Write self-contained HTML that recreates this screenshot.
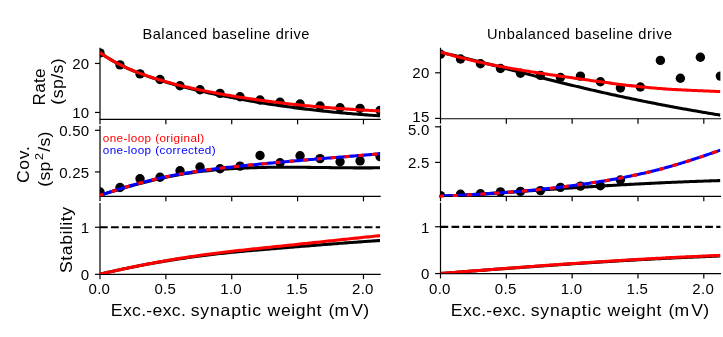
<!DOCTYPE html>
<html><head><meta charset="utf-8"><title>Figure</title>
<style>
html,body{margin:0;padding:0;background:#fff;}
body{width:723px;height:337px;overflow:hidden;font-family:"Liberation Sans",sans-serif;}
svg{display:block;will-change:transform;}
svg text{font-family:"Liberation Sans",sans-serif;}
</style></head><body>
<svg width="723" height="337" viewBox="0 0 723 337">
<rect width="723" height="337" fill="#fff"/>
<defs>
<clipPath id="c00"><rect x="100.00" y="48.30" width="280.10" height="70.90"/></clipPath>
<clipPath id="c01"><rect x="100.00" y="126.20" width="280.10" height="70.05"/></clipPath>
<clipPath id="c02"><rect x="100.00" y="203.50" width="280.10" height="70.60"/></clipPath>
<clipPath id="c10"><rect x="440.50" y="48.20" width="279.90" height="70.35"/></clipPath>
<clipPath id="c11"><rect x="440.50" y="125.70" width="279.90" height="70.50"/></clipPath>
<clipPath id="c12"><rect x="440.50" y="203.30" width="279.90" height="70.05"/></clipPath>
<clipPath id="c11r"><rect x="438.80" y="125.20" width="281.60" height="73.70"/></clipPath>
</defs>
<g stroke="#000000" stroke-width="1.2" fill="none">
<path d="M100.0,47.8 V120.00 M99.40,119.4 H380.70"/>
<path d="M100.00,119.4 v4.9"/>
<path d="M165.87,119.4 v4.9"/>
<path d="M231.73,119.4 v4.9"/>
<path d="M297.59,119.4 v4.9"/>
<path d="M363.46,119.4 v4.9"/>
<path d="M100.0,63.45 h-5.0"/>
<path d="M100.0,112.45 h-5.0"/>
<path d="M100.0,125.7 V197.05 M99.40,196.45 H380.70"/>
<path d="M100.00,196.45 v4.9"/>
<path d="M165.87,196.45 v4.9"/>
<path d="M231.73,196.45 v4.9"/>
<path d="M297.59,196.45 v4.9"/>
<path d="M363.46,196.45 v4.9"/>
<path d="M100.0,130.3 h-5.0"/>
<path d="M100.0,171.95 h-5.0"/>
<path d="M100.0,203.0 V274.90 M99.40,274.3 H380.70"/>
<path d="M100.00,274.3 v4.9"/>
<path d="M165.87,274.3 v4.9"/>
<path d="M231.73,274.3 v4.9"/>
<path d="M297.59,274.3 v4.9"/>
<path d="M363.46,274.3 v4.9"/>
<path d="M100.0,227.25 h-5.0"/>
<path d="M100.0,274.3 h-5.0"/>
<path d="M440.5,47.7 V119.35 M439.90,118.75 H721.00"/>
<path d="M440.50,118.75 v4.9"/>
<path d="M506.32,118.75 v4.9"/>
<path d="M572.15,118.75 v4.9"/>
<path d="M637.98,118.75 v4.9"/>
<path d="M703.80,118.75 v4.9"/>
<path d="M440.5,72.8 h-5.4"/>
<path d="M440.5,118.4 h-5.4"/>
<path d="M440.5,125.2 V197.00 M439.90,196.4 H721.00"/>
<path d="M440.50,196.4 v4.9"/>
<path d="M506.32,196.4 v4.9"/>
<path d="M572.15,196.4 v4.9"/>
<path d="M637.98,196.4 v4.9"/>
<path d="M703.80,196.4 v4.9"/>
<path d="M440.5,126.8 h-5.4"/>
<path d="M440.5,162.4 h-5.4"/>
<path d="M440.5,202.8 V274.15 M439.90,273.55 H721.00"/>
<path d="M440.50,273.55 v4.9"/>
<path d="M506.32,273.55 v4.9"/>
<path d="M572.15,273.55 v4.9"/>
<path d="M637.98,273.55 v4.9"/>
<path d="M703.80,273.55 v4.9"/>
<path d="M440.5,226.75 h-5.4"/>
<path d="M440.5,273.55 h-5.4"/>
</g>
<g fill="#000000" clip-path="url(#c00)">
<circle cx="100.00" cy="52.9" r="4.7"/>
<circle cx="120.00" cy="64.9" r="4.7"/>
<circle cx="140.01" cy="73.9" r="4.7"/>
<circle cx="160.01" cy="79.5" r="4.7"/>
<circle cx="180.02" cy="85.8" r="4.7"/>
<circle cx="200.02" cy="89.8" r="4.7"/>
<circle cx="220.03" cy="93.4" r="4.7"/>
<circle cx="240.03" cy="96.7" r="4.7"/>
<circle cx="260.04" cy="100.0" r="4.7"/>
<circle cx="280.04" cy="102.3" r="4.7"/>
<circle cx="300.05" cy="104.0" r="4.7"/>
<circle cx="320.05" cy="106.0" r="4.7"/>
<circle cx="340.06" cy="107.7" r="4.7"/>
<circle cx="360.06" cy="108.4" r="4.7"/>
<circle cx="380.07" cy="110.4" r="4.7"/>
</g>
<path d="M100.00,52.62 L102.00,54.02 L104.00,55.37 L106.00,56.68 L108.00,57.94 L110.00,59.16 L112.00,60.35 L114.00,61.49 L116.01,62.60 L118.01,63.67 L120.01,64.70 L122.01,65.71 L124.01,66.68 L126.01,67.62 L128.01,68.53 L130.01,69.42 L132.01,70.27 L134.01,71.11 L136.01,71.92 L138.01,72.70 L140.01,73.47 L142.01,74.21 L144.02,74.94 L146.02,75.65 L148.02,76.35 L150.02,77.03 L152.02,77.70 L154.02,78.36 L156.02,79.01 L158.02,79.65 L160.02,80.28 L162.02,80.89 L164.02,81.50 L166.02,82.10 L168.02,82.70 L170.03,83.28 L172.03,83.85 L174.03,84.41 L176.03,84.97 L178.03,85.51 L180.03,86.05 L182.03,86.58 L184.03,87.10 L186.03,87.61 L188.03,88.11 L190.03,88.61 L192.03,89.09 L194.03,89.57 L196.03,90.05 L198.04,90.51 L200.04,90.97 L202.04,91.42 L204.04,91.86 L206.04,92.30 L208.04,92.73 L210.04,93.16 L212.04,93.59 L214.04,94.01 L216.04,94.42 L218.04,94.84 L220.04,95.24 L222.04,95.65 L224.04,96.05 L226.05,96.45 L228.05,96.84 L230.05,97.23 L232.05,97.61 L234.05,97.99 L236.05,98.37 L238.05,98.74 L240.05,99.11 L242.05,99.47 L244.05,99.83 L246.05,100.19 L248.05,100.54 L250.05,100.89 L252.05,101.24 L254.06,101.59 L256.06,101.93 L258.06,102.26 L260.06,102.60 L262.06,102.92 L264.06,103.25 L266.06,103.57 L268.06,103.89 L270.06,104.20 L272.06,104.51 L274.06,104.81 L276.06,105.11 L278.06,105.41 L280.06,105.70 L282.07,105.98 L284.07,106.26 L286.07,106.54 L288.07,106.82 L290.07,107.09 L292.07,107.35 L294.07,107.62 L296.07,107.87 L298.07,108.13 L300.07,108.38 L302.07,108.63 L304.07,108.87 L306.07,109.12 L308.07,109.35 L310.08,109.59 L312.08,109.82 L314.08,110.05 L316.08,110.27 L318.08,110.49 L320.08,110.71 L322.08,110.92 L324.08,111.14 L326.08,111.34 L328.08,111.55 L330.08,111.75 L332.08,111.95 L334.08,112.15 L336.08,112.34 L338.09,112.53 L340.09,112.72 L342.09,112.90 L344.09,113.08 L346.09,113.26 L348.09,113.43 L350.09,113.60 L352.09,113.77 L354.09,113.94 L356.09,114.10 L358.09,114.26 L360.09,114.42 L362.09,114.58 L364.09,114.73 L366.10,114.88 L368.10,115.03 L370.10,115.17 L372.10,115.31 L374.10,115.45 L376.10,115.59 L378.10,115.72 L380.10,115.85" fill="none" stroke="#000000" stroke-width="3.05" stroke-linejoin="round" clip-path="url(#c00)"/>
<path d="M100.00,52.62 L102.00,54.02 L104.00,55.37 L106.00,56.67 L108.00,57.93 L110.00,59.15 L112.00,60.33 L114.00,61.47 L116.01,62.57 L118.01,63.64 L120.01,64.67 L122.01,65.66 L124.01,66.62 L126.01,67.56 L128.01,68.46 L130.01,69.33 L132.01,70.18 L134.01,71.00 L136.01,71.80 L138.01,72.58 L140.01,73.33 L142.01,74.06 L144.02,74.78 L146.02,75.48 L148.02,76.16 L150.02,76.83 L152.02,77.48 L154.02,78.13 L156.02,78.76 L158.02,79.38 L160.02,79.98 L162.02,80.58 L164.02,81.16 L166.02,81.73 L168.02,82.29 L170.03,82.84 L172.03,83.38 L174.03,83.91 L176.03,84.43 L178.03,84.94 L180.03,85.44 L182.03,85.93 L184.03,86.41 L186.03,86.88 L188.03,87.34 L190.03,87.80 L192.03,88.25 L194.03,88.69 L196.03,89.12 L198.04,89.55 L200.04,89.96 L202.04,90.38 L204.04,90.78 L206.04,91.18 L208.04,91.57 L210.04,91.96 L212.04,92.34 L214.04,92.72 L216.04,93.09 L218.04,93.46 L220.04,93.82 L222.04,94.18 L224.04,94.53 L226.05,94.88 L228.05,95.22 L230.05,95.56 L232.05,95.90 L234.05,96.23 L236.05,96.56 L238.05,96.89 L240.05,97.21 L242.05,97.52 L244.05,97.83 L246.05,98.14 L248.05,98.45 L250.05,98.75 L252.05,99.04 L254.06,99.34 L256.06,99.62 L258.06,99.91 L260.06,100.19 L262.06,100.47 L264.06,100.74 L266.06,101.01 L268.06,101.28 L270.06,101.54 L272.06,101.80 L274.06,102.05 L276.06,102.30 L278.06,102.55 L280.06,102.79 L282.07,103.03 L284.07,103.27 L286.07,103.50 L288.07,103.73 L290.07,103.96 L292.07,104.18 L294.07,104.40 L296.07,104.62 L298.07,104.83 L300.07,105.04 L302.07,105.25 L304.07,105.45 L306.07,105.65 L308.07,105.85 L310.08,106.04 L312.08,106.23 L314.08,106.42 L316.08,106.60 L318.08,106.78 L320.08,106.96 L322.08,107.13 L324.08,107.30 L326.08,107.47 L328.08,107.64 L330.08,107.80 L332.08,107.96 L334.08,108.11 L336.08,108.27 L338.09,108.42 L340.09,108.57 L342.09,108.71 L344.09,108.85 L346.09,108.99 L348.09,109.13 L350.09,109.26 L352.09,109.39 L354.09,109.52 L356.09,109.65 L358.09,109.77 L360.09,109.89 L362.09,110.01 L364.09,110.12 L366.10,110.23 L368.10,110.34 L370.10,110.45 L372.10,110.56 L374.10,110.66 L376.10,110.76 L378.10,110.86 L380.10,110.95" fill="none" stroke="#ff0000" stroke-width="3.05" stroke-linejoin="round" clip-path="url(#c00)"/>
<g fill="#000000" clip-path="url(#c01)">
<circle cx="100.00" cy="192.0" r="4.7"/>
<circle cx="120.00" cy="187.5" r="4.7"/>
<circle cx="140.01" cy="178.8" r="4.7"/>
<circle cx="160.01" cy="177.2" r="4.7"/>
<circle cx="180.02" cy="170.7" r="4.7"/>
<circle cx="200.02" cy="167.0" r="4.7"/>
<circle cx="220.03" cy="168.7" r="4.7"/>
<circle cx="240.03" cy="166.1" r="4.7"/>
<circle cx="260.04" cy="155.5" r="4.7"/>
<circle cx="280.04" cy="162.7" r="4.7"/>
<circle cx="300.05" cy="155.8" r="4.7"/>
<circle cx="320.05" cy="158.6" r="4.7"/>
<circle cx="340.06" cy="161.7" r="4.7"/>
<circle cx="360.06" cy="160.9" r="4.7"/>
<circle cx="380.07" cy="156.6" r="4.7"/>
</g>
<path d="M100.00,195.23 L102.00,194.61 L104.00,193.98 L106.00,193.36 L108.00,192.75 L110.00,192.14 L112.00,191.53 L114.00,190.92 L116.01,190.32 L118.01,189.73 L120.01,189.13 L122.01,188.55 L124.01,187.96 L126.01,187.39 L128.01,186.82 L130.01,186.25 L132.01,185.69 L134.01,185.14 L136.01,184.59 L138.01,184.05 L140.01,183.51 L142.01,182.99 L144.02,182.47 L146.02,181.95 L148.02,181.45 L150.02,180.95 L152.02,180.46 L154.02,179.98 L156.02,179.50 L158.02,179.04 L160.02,178.58 L162.02,178.13 L164.02,177.70 L166.02,177.27 L168.02,176.85 L170.03,176.44 L172.03,176.04 L174.03,175.65 L176.03,175.27 L178.03,174.91 L180.03,174.55 L182.03,174.20 L184.03,173.87 L186.03,173.54 L188.03,173.23 L190.03,172.93 L192.03,172.64 L194.03,172.35 L196.03,172.08 L198.04,171.82 L200.04,171.56 L202.04,171.32 L204.04,171.08 L206.04,170.86 L208.04,170.64 L210.04,170.43 L212.04,170.23 L214.04,170.04 L216.04,169.85 L218.04,169.68 L220.04,169.51 L222.04,169.35 L224.04,169.20 L226.05,169.05 L228.05,168.91 L230.05,168.78 L232.05,168.65 L234.05,168.53 L236.05,168.42 L238.05,168.31 L240.05,168.21 L242.05,168.12 L244.05,168.03 L246.05,167.95 L248.05,167.87 L250.05,167.80 L252.05,167.73 L254.06,167.67 L256.06,167.61 L258.06,167.55 L260.06,167.51 L262.06,167.46 L264.06,167.42 L266.06,167.39 L268.06,167.35 L270.06,167.33 L272.06,167.30 L274.06,167.28 L276.06,167.27 L278.06,167.25 L280.06,167.24 L282.07,167.23 L284.07,167.23 L286.07,167.23 L288.07,167.23 L290.07,167.23 L292.07,167.24 L294.07,167.25 L296.07,167.26 L298.07,167.27 L300.07,167.28 L302.07,167.30 L304.07,167.32 L306.07,167.34 L308.07,167.36 L310.08,167.38 L312.08,167.40 L314.08,167.42 L316.08,167.45 L318.08,167.47 L320.08,167.50 L322.08,167.52 L324.08,167.55 L326.08,167.57 L328.08,167.60 L330.08,167.62 L332.08,167.65 L334.08,167.67 L336.08,167.70 L338.09,167.72 L340.09,167.74 L342.09,167.76 L344.09,167.78 L346.09,167.80 L348.09,167.82 L350.09,167.83 L352.09,167.85 L354.09,167.86 L356.09,167.87 L358.09,167.88 L360.09,167.88 L362.09,167.88 L364.09,167.88 L366.10,167.88 L368.10,167.88 L370.10,167.87 L372.10,167.86 L374.10,167.84 L376.10,167.83 L378.10,167.80 L380.10,167.78" fill="none" stroke="#000000" stroke-width="3.05" stroke-linejoin="round" clip-path="url(#c01)"/>
<path d="M100.00,195.40 L102.00,194.70 L104.00,194.01 L106.00,193.33 L108.00,192.66 L110.00,191.99 L112.00,191.34 L114.00,190.69 L116.01,190.05 L118.01,189.42 L120.01,188.80 L122.01,188.18 L124.01,187.57 L126.01,186.98 L128.01,186.39 L130.01,185.80 L132.01,185.23 L134.01,184.67 L136.01,184.11 L138.01,183.56 L140.01,183.03 L142.01,182.50 L144.02,181.97 L146.02,181.46 L148.02,180.96 L150.02,180.46 L152.02,179.98 L154.02,179.50 L156.02,179.03 L158.02,178.57 L160.02,178.12 L162.02,177.68 L164.02,177.25 L166.02,176.82 L168.02,176.41 L170.03,176.00 L172.03,175.61 L174.03,175.22 L176.03,174.84 L178.03,174.47 L180.03,174.11 L182.03,173.76 L184.03,173.41 L186.03,173.07 L188.03,172.74 L190.03,172.42 L192.03,172.10 L194.03,171.79 L196.03,171.49 L198.04,171.19 L200.04,170.90 L202.04,170.62 L204.04,170.34 L206.04,170.07 L208.04,169.80 L210.04,169.54 L212.04,169.28 L214.04,169.03 L216.04,168.78 L218.04,168.54 L220.04,168.30 L222.04,168.06 L224.04,167.83 L226.05,167.60 L228.05,167.38 L230.05,167.15 L232.05,166.93 L234.05,166.72 L236.05,166.50 L238.05,166.29 L240.05,166.08 L242.05,165.87 L244.05,165.67 L246.05,165.46 L248.05,165.26 L250.05,165.06 L252.05,164.86 L254.06,164.66 L256.06,164.46 L258.06,164.26 L260.06,164.07 L262.06,163.88 L264.06,163.69 L266.06,163.50 L268.06,163.31 L270.06,163.12 L272.06,162.93 L274.06,162.75 L276.06,162.57 L278.06,162.38 L280.06,162.20 L282.07,162.02 L284.07,161.84 L286.07,161.66 L288.07,161.49 L290.07,161.31 L292.07,161.13 L294.07,160.96 L296.07,160.79 L298.07,160.61 L300.07,160.44 L302.07,160.27 L304.07,160.10 L306.07,159.93 L308.07,159.76 L310.08,159.59 L312.08,159.42 L314.08,159.25 L316.08,159.09 L318.08,158.92 L320.08,158.75 L322.08,158.59 L324.08,158.42 L326.08,158.26 L328.08,158.09 L330.08,157.93 L332.08,157.76 L334.08,157.60 L336.08,157.44 L338.09,157.27 L340.09,157.11 L342.09,156.94 L344.09,156.78 L346.09,156.62 L348.09,156.45 L350.09,156.29 L352.09,156.12 L354.09,155.96 L356.09,155.79 L358.09,155.63 L360.09,155.46 L362.09,155.30 L364.09,155.13 L366.10,154.97 L368.10,154.80 L370.10,154.63 L372.10,154.47 L374.10,154.30 L376.10,154.13 L378.10,153.96 L380.10,153.79" fill="none" stroke="#0000ff" stroke-width="3.05" stroke-linejoin="round" clip-path="url(#c01)"/>
<path d="M100.00,195.40 L102.00,194.70 L104.00,194.01 L106.00,193.33 L108.00,192.66 L110.00,191.99 L112.00,191.34 L114.00,190.69 L116.01,190.05 L118.01,189.42 L120.01,188.80 L122.01,188.18 L124.01,187.57 L126.01,186.98 L128.01,186.39 L130.01,185.80 L132.01,185.23 L134.01,184.67 L136.01,184.11 L138.01,183.56 L140.01,183.03 L142.01,182.50 L144.02,181.97 L146.02,181.46 L148.02,180.96 L150.02,180.46 L152.02,179.98 L154.02,179.50 L156.02,179.03 L158.02,178.57 L160.02,178.12 L162.02,177.68 L164.02,177.25 L166.02,176.82 L168.02,176.41 L170.03,176.00 L172.03,175.61 L174.03,175.22 L176.03,174.84 L178.03,174.47 L180.03,174.11 L182.03,173.76 L184.03,173.41 L186.03,173.07 L188.03,172.74 L190.03,172.42 L192.03,172.10 L194.03,171.79 L196.03,171.49 L198.04,171.19 L200.04,170.90 L202.04,170.62 L204.04,170.34 L206.04,170.07 L208.04,169.80 L210.04,169.54 L212.04,169.28 L214.04,169.03 L216.04,168.78 L218.04,168.54 L220.04,168.30 L222.04,168.06 L224.04,167.83 L226.05,167.60 L228.05,167.38 L230.05,167.15 L232.05,166.93 L234.05,166.72 L236.05,166.50 L238.05,166.29 L240.05,166.08 L242.05,165.87 L244.05,165.67 L246.05,165.46 L248.05,165.26 L250.05,165.06 L252.05,164.86 L254.06,164.66 L256.06,164.46 L258.06,164.26 L260.06,164.07 L262.06,163.88 L264.06,163.69 L266.06,163.50 L268.06,163.31 L270.06,163.12 L272.06,162.93 L274.06,162.75 L276.06,162.57 L278.06,162.38 L280.06,162.20 L282.07,162.02 L284.07,161.84 L286.07,161.66 L288.07,161.49 L290.07,161.31 L292.07,161.13 L294.07,160.96 L296.07,160.79 L298.07,160.61 L300.07,160.44 L302.07,160.27 L304.07,160.10 L306.07,159.93 L308.07,159.76 L310.08,159.59 L312.08,159.42 L314.08,159.25 L316.08,159.09 L318.08,158.92 L320.08,158.75 L322.08,158.59 L324.08,158.42 L326.08,158.26 L328.08,158.09 L330.08,157.93 L332.08,157.76 L334.08,157.60 L336.08,157.44 L338.09,157.27 L340.09,157.11 L342.09,156.94 L344.09,156.78 L346.09,156.62 L348.09,156.45 L350.09,156.29 L352.09,156.12 L354.09,155.96 L356.09,155.79 L358.09,155.63 L360.09,155.46 L362.09,155.30 L364.09,155.13 L366.10,154.97 L368.10,154.80 L370.10,154.63 L372.10,154.47 L374.10,154.30 L376.10,154.13 L378.10,153.96 L380.10,153.79" fill="none" stroke="#ff0000" stroke-width="3.05" stroke-linejoin="round" stroke-dasharray="5.2 8.69" stroke-dashoffset="1.7" clip-path="url(#c01)"/>
<path d="M100.00,274.18 L102.00,273.71 L104.00,273.25 L106.00,272.79 L108.00,272.33 L110.00,271.88 L112.00,271.43 L114.00,270.99 L116.01,270.55 L118.01,270.12 L120.01,269.69 L122.01,269.26 L124.01,268.84 L126.01,268.42 L128.01,268.01 L130.01,267.60 L132.01,267.19 L134.01,266.79 L136.01,266.40 L138.01,266.01 L140.01,265.62 L142.01,265.24 L144.02,264.86 L146.02,264.48 L148.02,264.11 L150.02,263.75 L152.02,263.38 L154.02,263.03 L156.02,262.67 L158.02,262.32 L160.02,261.98 L162.02,261.64 L164.02,261.30 L166.02,260.97 L168.02,260.64 L170.03,260.32 L172.03,260.00 L174.03,259.69 L176.03,259.37 L178.03,259.07 L180.03,258.77 L182.03,258.47 L184.03,258.17 L186.03,257.88 L188.03,257.60 L190.03,257.32 L192.03,257.04 L194.03,256.77 L196.03,256.50 L198.04,256.23 L200.04,255.97 L202.04,255.72 L204.04,255.47 L206.04,255.22 L208.04,254.97 L210.04,254.73 L212.04,254.50 L214.04,254.27 L216.04,254.04 L218.04,253.82 L220.04,253.60 L222.04,253.38 L224.04,253.17 L226.05,252.96 L228.05,252.75 L230.05,252.55 L232.05,252.35 L234.05,252.15 L236.05,251.96 L238.05,251.77 L240.05,251.58 L242.05,251.39 L244.05,251.21 L246.05,251.03 L248.05,250.85 L250.05,250.67 L252.05,250.49 L254.06,250.32 L256.06,250.14 L258.06,249.97 L260.06,249.80 L262.06,249.63 L264.06,249.46 L266.06,249.30 L268.06,249.13 L270.06,248.96 L272.06,248.80 L274.06,248.63 L276.06,248.47 L278.06,248.30 L280.06,248.14 L282.07,247.98 L284.07,247.81 L286.07,247.65 L288.07,247.49 L290.07,247.32 L292.07,247.16 L294.07,247.00 L296.07,246.83 L298.07,246.67 L300.07,246.51 L302.07,246.34 L304.07,246.18 L306.07,246.02 L308.07,245.86 L310.08,245.70 L312.08,245.54 L314.08,245.38 L316.08,245.22 L318.08,245.06 L320.08,244.90 L322.08,244.74 L324.08,244.58 L326.08,244.42 L328.08,244.27 L330.08,244.11 L332.08,243.96 L334.08,243.80 L336.08,243.65 L338.09,243.49 L340.09,243.34 L342.09,243.19 L344.09,243.04 L346.09,242.89 L348.09,242.74 L350.09,242.59 L352.09,242.44 L354.09,242.30 L356.09,242.15 L358.09,242.00 L360.09,241.86 L362.09,241.72 L364.09,241.58 L366.10,241.44 L368.10,241.30 L370.10,241.16 L372.10,241.02 L374.10,240.88 L376.10,240.75 L378.10,240.61 L380.10,240.48" fill="none" stroke="#000000" stroke-width="3.05" stroke-linejoin="round" clip-path="url(#c02)"/>
<path d="M100.00,274.18 L102.00,273.71 L104.00,273.25 L106.00,272.79 L108.00,272.33 L110.00,271.87 L112.00,271.42 L114.00,270.98 L116.01,270.53 L118.01,270.10 L120.01,269.66 L122.01,269.23 L124.01,268.80 L126.01,268.38 L128.01,267.96 L130.01,267.54 L132.01,267.13 L134.01,266.72 L136.01,266.32 L138.01,265.92 L140.01,265.52 L142.01,265.13 L144.02,264.74 L146.02,264.35 L148.02,263.97 L150.02,263.59 L152.02,263.22 L154.02,262.85 L156.02,262.48 L158.02,262.12 L160.02,261.76 L162.02,261.40 L164.02,261.05 L166.02,260.70 L168.02,260.36 L170.03,260.02 L172.03,259.68 L174.03,259.35 L176.03,259.02 L178.03,258.69 L180.03,258.37 L182.03,258.06 L184.03,257.74 L186.03,257.43 L188.03,257.12 L190.03,256.82 L192.03,256.52 L194.03,256.23 L196.03,255.93 L198.04,255.65 L200.04,255.36 L202.04,255.08 L204.04,254.80 L206.04,254.53 L208.04,254.26 L210.04,253.99 L212.04,253.73 L214.04,253.47 L216.04,253.22 L218.04,252.97 L220.04,252.72 L222.04,252.47 L224.04,252.23 L226.05,251.99 L228.05,251.75 L230.05,251.52 L232.05,251.28 L234.05,251.05 L236.05,250.83 L238.05,250.60 L240.05,250.38 L242.05,250.16 L244.05,249.94 L246.05,249.72 L248.05,249.50 L250.05,249.29 L252.05,249.08 L254.06,248.86 L256.06,248.65 L258.06,248.44 L260.06,248.23 L262.06,248.02 L264.06,247.81 L266.06,247.61 L268.06,247.40 L270.06,247.19 L272.06,246.99 L274.06,246.78 L276.06,246.57 L278.06,246.36 L280.06,246.16 L282.07,245.95 L284.07,245.74 L286.07,245.53 L288.07,245.32 L290.07,245.11 L292.07,244.90 L294.07,244.69 L296.07,244.48 L298.07,244.27 L300.07,244.06 L302.07,243.84 L304.07,243.63 L306.07,243.42 L308.07,243.21 L310.08,243.00 L312.08,242.78 L314.08,242.57 L316.08,242.36 L318.08,242.15 L320.08,241.93 L322.08,241.72 L324.08,241.51 L326.08,241.30 L328.08,241.08 L330.08,240.87 L332.08,240.66 L334.08,240.45 L336.08,240.24 L338.09,240.02 L340.09,239.81 L342.09,239.60 L344.09,239.39 L346.09,239.18 L348.09,238.97 L350.09,238.76 L352.09,238.55 L354.09,238.34 L356.09,238.13 L358.09,237.93 L360.09,237.72 L362.09,237.51 L364.09,237.31 L366.10,237.10 L368.10,236.89 L370.10,236.69 L372.10,236.49 L374.10,236.28 L376.10,236.08 L378.10,235.88 L380.10,235.68" fill="none" stroke="#ff0000" stroke-width="3.05" stroke-linejoin="round" clip-path="url(#c02)"/>
<path d="M100.0,227.25 H380.1" stroke="#000000" stroke-width="2.2" stroke-dasharray="7.7 3.33" fill="none"/>
<g fill="#000000" clip-path="url(#c10)">
<circle cx="440.50" cy="54.3" r="4.7"/>
<circle cx="460.49" cy="59.0" r="4.7"/>
<circle cx="480.48" cy="63.8" r="4.7"/>
<circle cx="500.47" cy="68.5" r="4.7"/>
<circle cx="520.46" cy="73.2" r="4.7"/>
<circle cx="540.45" cy="75.4" r="4.7"/>
<circle cx="560.44" cy="77.5" r="4.7"/>
<circle cx="580.43" cy="76.1" r="4.7"/>
<circle cx="600.42" cy="81.8" r="4.7"/>
<circle cx="620.41" cy="88.0" r="4.7"/>
<circle cx="640.40" cy="87.0" r="4.7"/>
<circle cx="660.39" cy="60.4" r="4.7"/>
<circle cx="680.38" cy="78.2" r="4.7"/>
<circle cx="700.37" cy="57.3" r="4.7"/>
<circle cx="720.36" cy="76.1" r="4.7"/>
</g>
<path d="M440.50,52.24 L442.50,52.71 L444.50,53.18 L446.50,53.66 L448.50,54.13 L450.50,54.61 L452.50,55.09 L454.50,55.58 L456.49,56.06 L458.49,56.55 L460.49,57.04 L462.49,57.53 L464.49,58.03 L466.49,58.52 L468.49,59.02 L470.49,59.52 L472.49,60.02 L474.49,60.52 L476.49,61.02 L478.49,61.52 L480.49,62.03 L482.49,62.54 L484.48,63.04 L486.48,63.55 L488.48,64.06 L490.48,64.57 L492.48,65.08 L494.48,65.60 L496.48,66.11 L498.48,66.62 L500.48,67.14 L502.48,67.65 L504.48,68.16 L506.48,68.68 L508.48,69.20 L510.48,69.71 L512.47,70.23 L514.47,70.74 L516.47,71.26 L518.47,71.77 L520.47,72.29 L522.47,72.80 L524.47,73.32 L526.47,73.83 L528.47,74.35 L530.47,74.86 L532.47,75.37 L534.47,75.89 L536.47,76.40 L538.47,76.91 L540.46,77.42 L542.46,77.93 L544.46,78.44 L546.46,78.94 L548.46,79.45 L550.46,79.95 L552.46,80.46 L554.46,80.96 L556.46,81.46 L558.46,81.96 L560.46,82.45 L562.46,82.95 L564.46,83.44 L566.45,83.94 L568.45,84.43 L570.45,84.91 L572.45,85.40 L574.45,85.88 L576.45,86.37 L578.45,86.85 L580.45,87.32 L582.45,87.80 L584.45,88.27 L586.45,88.74 L588.45,89.21 L590.45,89.67 L592.45,90.14 L594.44,90.60 L596.44,91.06 L598.44,91.51 L600.44,91.97 L602.44,92.42 L604.44,92.87 L606.44,93.31 L608.44,93.76 L610.44,94.20 L612.44,94.64 L614.44,95.08 L616.44,95.52 L618.44,95.95 L620.44,96.38 L622.43,96.81 L624.43,97.23 L626.43,97.66 L628.43,98.08 L630.43,98.50 L632.43,98.92 L634.43,99.33 L636.43,99.75 L638.43,100.16 L640.43,100.57 L642.43,100.97 L644.43,101.38 L646.43,101.78 L648.43,102.18 L650.42,102.57 L652.42,102.97 L654.42,103.36 L656.42,103.75 L658.42,104.14 L660.42,104.53 L662.42,104.91 L664.42,105.30 L666.42,105.68 L668.42,106.05 L670.42,106.43 L672.42,106.80 L674.42,107.17 L676.42,107.54 L678.41,107.91 L680.41,108.27 L682.41,108.64 L684.41,109.00 L686.41,109.36 L688.41,109.71 L690.41,110.07 L692.41,110.42 L694.41,110.77 L696.41,111.12 L698.41,111.46 L700.41,111.81 L702.41,112.15 L704.41,112.49 L706.40,112.83 L708.40,113.16 L710.40,113.49 L712.40,113.83 L714.40,114.15 L716.40,114.48 L718.40,114.81 L720.40,115.13" fill="none" stroke="#000000" stroke-width="3.05" stroke-linejoin="round" clip-path="url(#c10)"/>
<path d="M440.50,51.99 L442.50,52.59 L444.50,53.18 L446.50,53.76 L448.50,54.33 L450.50,54.90 L452.50,55.45 L454.50,56.00 L456.49,56.53 L458.49,57.06 L460.49,57.58 L462.49,58.09 L464.49,58.60 L466.49,59.09 L468.49,59.58 L470.49,60.07 L472.49,60.54 L474.49,61.01 L476.49,61.46 L478.49,61.92 L480.49,62.36 L482.49,62.80 L484.48,63.23 L486.48,63.66 L488.48,64.08 L490.48,64.49 L492.48,64.90 L494.48,65.30 L496.48,65.70 L498.48,66.09 L500.48,66.47 L502.48,66.85 L504.48,67.23 L506.48,67.59 L508.48,67.96 L510.48,68.32 L512.47,68.67 L514.47,69.02 L516.47,69.37 L518.47,69.71 L520.47,70.05 L522.47,70.38 L524.47,70.71 L526.47,71.04 L528.47,71.36 L530.47,71.68 L532.47,72.00 L534.47,72.31 L536.47,72.62 L538.47,72.93 L540.46,73.23 L542.46,73.54 L544.46,73.84 L546.46,74.13 L548.46,74.43 L550.46,74.72 L552.46,75.01 L554.46,75.30 L556.46,75.59 L558.46,75.88 L560.46,76.17 L562.46,76.45 L564.46,76.73 L566.45,77.02 L568.45,77.30 L570.45,77.58 L572.45,77.86 L574.45,78.14 L576.45,78.42 L578.45,78.70 L580.45,78.99 L582.45,79.27 L584.45,79.55 L586.45,79.83 L588.45,80.11 L590.45,80.39 L592.45,80.67 L594.44,80.95 L596.44,81.22 L598.44,81.50 L600.44,81.78 L602.44,82.05 L604.44,82.32 L606.44,82.59 L608.44,82.86 L610.44,83.13 L612.44,83.39 L614.44,83.65 L616.44,83.91 L618.44,84.17 L620.44,84.42 L622.43,84.67 L624.43,84.91 L626.43,85.16 L628.43,85.40 L630.43,85.63 L632.43,85.86 L634.43,86.09 L636.43,86.31 L638.43,86.53 L640.43,86.74 L642.43,86.95 L644.43,87.15 L646.43,87.35 L648.43,87.55 L650.42,87.73 L652.42,87.91 L654.42,88.09 L656.42,88.26 L658.42,88.42 L660.42,88.58 L662.42,88.73 L664.42,88.88 L666.42,89.01 L668.42,89.15 L670.42,89.27 L672.42,89.40 L674.42,89.51 L676.42,89.63 L678.41,89.74 L680.41,89.84 L682.41,89.94 L684.41,90.04 L686.41,90.14 L688.41,90.23 L690.41,90.32 L692.41,90.41 L694.41,90.50 L696.41,90.58 L698.41,90.67 L700.41,90.75 L702.41,90.83 L704.41,90.91 L706.40,90.99 L708.40,91.08 L710.40,91.16 L712.40,91.24 L714.40,91.33 L716.40,91.41 L718.40,91.50 L720.40,91.59" fill="none" stroke="#ff0000" stroke-width="3.05" stroke-linejoin="round" clip-path="url(#c10)"/>
<g fill="#000000" clip-path="url(#c11)">
<circle cx="440.50" cy="195.6" r="4.7"/>
<circle cx="460.49" cy="194.3" r="4.7"/>
<circle cx="480.48" cy="193.7" r="4.7"/>
<circle cx="500.47" cy="191.9" r="4.7"/>
<circle cx="520.46" cy="191.4" r="4.7"/>
<circle cx="540.45" cy="190.6" r="4.7"/>
<circle cx="560.44" cy="187.4" r="4.7"/>
<circle cx="580.43" cy="186.1" r="4.7"/>
<circle cx="600.42" cy="185.7" r="4.7"/>
<circle cx="620.41" cy="180.0" r="4.7"/>
</g>
<path d="M438.80,196.36 L440.81,196.27 L442.82,196.17 L444.83,196.07 L446.85,195.97 L448.86,195.87 L450.87,195.76 L452.88,195.65 L454.89,195.55 L456.90,195.44 L458.91,195.33 L460.93,195.21 L462.94,195.10 L464.95,194.99 L466.96,194.87 L468.97,194.75 L470.98,194.63 L472.99,194.51 L475.01,194.39 L477.02,194.27 L479.03,194.15 L481.04,194.02 L483.05,193.89 L485.06,193.77 L487.07,193.64 L489.09,193.51 L491.10,193.38 L493.11,193.25 L495.12,193.12 L497.13,192.99 L499.14,192.86 L501.15,192.72 L503.17,192.59 L505.18,192.45 L507.19,192.32 L509.20,192.18 L511.21,192.05 L513.22,191.91 L515.23,191.77 L517.25,191.64 L519.26,191.50 L521.27,191.36 L523.28,191.22 L525.29,191.08 L527.30,190.94 L529.31,190.80 L531.33,190.66 L533.34,190.53 L535.35,190.39 L537.36,190.25 L539.37,190.11 L541.38,189.97 L543.39,189.83 L545.41,189.69 L547.42,189.55 L549.43,189.41 L551.44,189.27 L553.45,189.14 L555.46,189.00 L557.47,188.86 L559.49,188.72 L561.50,188.59 L563.51,188.45 L565.52,188.32 L567.53,188.18 L569.54,188.05 L571.55,187.91 L573.57,187.78 L575.58,187.65 L577.59,187.51 L579.60,187.38 L581.61,187.25 L583.62,187.12 L585.63,187.00 L587.65,186.87 L589.66,186.74 L591.67,186.62 L593.68,186.49 L595.69,186.37 L597.70,186.24 L599.71,186.12 L601.73,186.00 L603.74,185.88 L605.75,185.76 L607.76,185.64 L609.77,185.52 L611.78,185.41 L613.79,185.29 L615.81,185.17 L617.82,185.06 L619.83,184.95 L621.84,184.83 L623.85,184.72 L625.86,184.61 L627.87,184.50 L629.89,184.39 L631.90,184.29 L633.91,184.18 L635.92,184.07 L637.93,183.97 L639.94,183.86 L641.95,183.76 L643.97,183.66 L645.98,183.56 L647.99,183.46 L650.00,183.36 L652.01,183.26 L654.02,183.16 L656.03,183.07 L658.05,182.97 L660.06,182.88 L662.07,182.79 L664.08,182.69 L666.09,182.60 L668.10,182.51 L670.11,182.42 L672.13,182.34 L674.14,182.25 L676.15,182.16 L678.16,182.08 L680.17,182.00 L682.18,181.91 L684.19,181.83 L686.21,181.75 L688.22,181.67 L690.23,181.60 L692.24,181.52 L694.25,181.44 L696.26,181.37 L698.27,181.29 L700.29,181.22 L702.30,181.15 L704.31,181.08 L706.32,181.01 L708.33,180.94 L710.34,180.88 L712.35,180.81 L714.37,180.75 L716.38,180.68 L718.39,180.62 L720.40,180.56" fill="none" stroke="#000000" stroke-width="3.05" stroke-linejoin="round" clip-path="url(#c11)"/>
<path d="M438.80,196.24 L440.81,196.15 L442.82,196.06 L444.83,195.97 L446.85,195.88 L448.86,195.79 L450.87,195.69 L452.88,195.60 L454.89,195.50 L456.90,195.41 L458.91,195.31 L460.93,195.21 L462.94,195.11 L464.95,195.00 L466.96,194.90 L468.97,194.80 L470.98,194.69 L472.99,194.58 L475.01,194.47 L477.02,194.36 L479.03,194.24 L481.04,194.13 L483.05,194.01 L485.06,193.89 L487.07,193.76 L489.09,193.64 L491.10,193.51 L493.11,193.38 L495.12,193.25 L497.13,193.11 L499.14,192.97 L501.15,192.83 L503.17,192.68 L505.18,192.54 L507.19,192.39 L509.20,192.23 L511.21,192.07 L513.22,191.91 L515.23,191.75 L517.25,191.58 L519.26,191.41 L521.27,191.24 L523.28,191.06 L525.29,190.88 L527.30,190.69 L529.31,190.50 L531.33,190.31 L533.34,190.11 L535.35,189.91 L537.36,189.71 L539.37,189.50 L541.38,189.29 L543.39,189.07 L545.41,188.86 L547.42,188.63 L549.43,188.41 L551.44,188.18 L553.45,187.95 L555.46,187.71 L557.47,187.47 L559.49,187.23 L561.50,186.98 L563.51,186.73 L565.52,186.48 L567.53,186.22 L569.54,185.96 L571.55,185.70 L573.57,185.43 L575.58,185.16 L577.59,184.88 L579.60,184.60 L581.61,184.32 L583.62,184.04 L585.63,183.75 L587.65,183.46 L589.66,183.16 L591.67,182.86 L593.68,182.56 L595.69,182.25 L597.70,181.93 L599.71,181.61 L601.73,181.29 L603.74,180.96 L605.75,180.63 L607.76,180.29 L609.77,179.95 L611.78,179.60 L613.79,179.24 L615.81,178.88 L617.82,178.52 L619.83,178.14 L621.84,177.76 L623.85,177.38 L625.86,176.99 L627.87,176.59 L629.89,176.18 L631.90,175.77 L633.91,175.35 L635.92,174.92 L637.93,174.49 L639.94,174.05 L641.95,173.60 L643.97,173.14 L645.98,172.68 L647.99,172.21 L650.00,171.73 L652.01,171.24 L654.02,170.74 L656.03,170.23 L658.05,169.72 L660.06,169.19 L662.07,168.66 L664.08,168.12 L666.09,167.57 L668.10,167.01 L670.11,166.44 L672.13,165.87 L674.14,165.28 L676.15,164.69 L678.16,164.09 L680.17,163.49 L682.18,162.88 L684.19,162.26 L686.21,161.63 L688.22,161.00 L690.23,160.36 L692.24,159.72 L694.25,159.06 L696.26,158.41 L698.27,157.75 L700.29,157.08 L702.30,156.41 L704.31,155.73 L706.32,155.05 L708.33,154.36 L710.34,153.67 L712.35,152.98 L714.37,152.28 L716.38,151.57 L718.39,150.87 L720.40,150.16" fill="none" stroke="#0000ff" stroke-width="3.05" stroke-linejoin="round" clip-path="url(#c11)"/>
<path d="M438.80,196.24 L440.81,196.15 L442.82,196.06 L444.83,195.97 L446.85,195.88 L448.86,195.79 L450.87,195.69 L452.88,195.60 L454.89,195.50 L456.90,195.41 L458.91,195.31 L460.93,195.21 L462.94,195.11 L464.95,195.00 L466.96,194.90 L468.97,194.80 L470.98,194.69 L472.99,194.58 L475.01,194.47 L477.02,194.36 L479.03,194.24 L481.04,194.13 L483.05,194.01 L485.06,193.89 L487.07,193.76 L489.09,193.64 L491.10,193.51 L493.11,193.38 L495.12,193.25 L497.13,193.11 L499.14,192.97 L501.15,192.83 L503.17,192.68 L505.18,192.54 L507.19,192.39 L509.20,192.23 L511.21,192.07 L513.22,191.91 L515.23,191.75 L517.25,191.58 L519.26,191.41 L521.27,191.24 L523.28,191.06 L525.29,190.88 L527.30,190.69 L529.31,190.50 L531.33,190.31 L533.34,190.11 L535.35,189.91 L537.36,189.71 L539.37,189.50 L541.38,189.29 L543.39,189.07 L545.41,188.86 L547.42,188.63 L549.43,188.41 L551.44,188.18 L553.45,187.95 L555.46,187.71 L557.47,187.47 L559.49,187.23 L561.50,186.98 L563.51,186.73 L565.52,186.48 L567.53,186.22 L569.54,185.96 L571.55,185.70 L573.57,185.43 L575.58,185.16 L577.59,184.88 L579.60,184.60 L581.61,184.32 L583.62,184.04 L585.63,183.75 L587.65,183.46 L589.66,183.16 L591.67,182.86 L593.68,182.56 L595.69,182.25 L597.70,181.93 L599.71,181.61 L601.73,181.29 L603.74,180.96 L605.75,180.63 L607.76,180.29 L609.77,179.95 L611.78,179.60 L613.79,179.24 L615.81,178.88 L617.82,178.52 L619.83,178.14 L621.84,177.76 L623.85,177.38 L625.86,176.99 L627.87,176.59 L629.89,176.18 L631.90,175.77 L633.91,175.35 L635.92,174.92 L637.93,174.49 L639.94,174.05 L641.95,173.60 L643.97,173.14 L645.98,172.68 L647.99,172.21 L650.00,171.73 L652.01,171.24 L654.02,170.74 L656.03,170.23 L658.05,169.72 L660.06,169.19 L662.07,168.66 L664.08,168.12 L666.09,167.57 L668.10,167.01 L670.11,166.44 L672.13,165.87 L674.14,165.28 L676.15,164.69 L678.16,164.09 L680.17,163.49 L682.18,162.88 L684.19,162.26 L686.21,161.63 L688.22,161.00 L690.23,160.36 L692.24,159.72 L694.25,159.06 L696.26,158.41 L698.27,157.75 L700.29,157.08 L702.30,156.41 L704.31,155.73 L706.32,155.05 L708.33,154.36 L710.34,153.67 L712.35,152.98 L714.37,152.28 L716.38,151.57 L718.39,150.87 L720.40,150.16" fill="none" stroke="#ff0000" stroke-width="3.05" stroke-linejoin="round" stroke-dasharray="5.2 8.69" stroke-dashoffset="0" clip-path="url(#c11r)"/>
<path d="M440.50,273.52 L442.50,273.37 L444.50,273.21 L446.50,273.06 L448.50,272.90 L450.50,272.75 L452.50,272.59 L454.50,272.44 L456.49,272.28 L458.49,272.13 L460.49,271.97 L462.49,271.82 L464.49,271.67 L466.49,271.51 L468.49,271.36 L470.49,271.21 L472.49,271.05 L474.49,270.90 L476.49,270.75 L478.49,270.60 L480.49,270.44 L482.49,270.29 L484.48,270.14 L486.48,269.99 L488.48,269.84 L490.48,269.69 L492.48,269.54 L494.48,269.39 L496.48,269.24 L498.48,269.09 L500.48,268.94 L502.48,268.79 L504.48,268.64 L506.48,268.50 L508.48,268.35 L510.48,268.20 L512.47,268.05 L514.47,267.91 L516.47,267.76 L518.47,267.62 L520.47,267.47 L522.47,267.32 L524.47,267.18 L526.47,267.04 L528.47,266.89 L530.47,266.75 L532.47,266.61 L534.47,266.46 L536.47,266.32 L538.47,266.18 L540.46,266.04 L542.46,265.90 L544.46,265.76 L546.46,265.62 L548.46,265.48 L550.46,265.34 L552.46,265.20 L554.46,265.06 L556.46,264.92 L558.46,264.79 L560.46,264.65 L562.46,264.51 L564.46,264.38 L566.45,264.24 L568.45,264.11 L570.45,263.98 L572.45,263.84 L574.45,263.71 L576.45,263.58 L578.45,263.45 L580.45,263.32 L582.45,263.19 L584.45,263.06 L586.45,262.93 L588.45,262.80 L590.45,262.67 L592.45,262.54 L594.44,262.42 L596.44,262.29 L598.44,262.17 L600.44,262.04 L602.44,261.92 L604.44,261.79 L606.44,261.67 L608.44,261.55 L610.44,261.43 L612.44,261.31 L614.44,261.19 L616.44,261.07 L618.44,260.95 L620.44,260.83 L622.43,260.71 L624.43,260.60 L626.43,260.48 L628.43,260.37 L630.43,260.25 L632.43,260.14 L634.43,260.03 L636.43,259.91 L638.43,259.80 L640.43,259.69 L642.43,259.58 L644.43,259.47 L646.43,259.37 L648.43,259.26 L650.42,259.15 L652.42,259.05 L654.42,258.94 L656.42,258.84 L658.42,258.74 L660.42,258.63 L662.42,258.53 L664.42,258.43 L666.42,258.33 L668.42,258.23 L670.42,258.14 L672.42,258.04 L674.42,257.94 L676.42,257.85 L678.41,257.75 L680.41,257.66 L682.41,257.57 L684.41,257.48 L686.41,257.39 L688.41,257.30 L690.41,257.21 L692.41,257.12 L694.41,257.03 L696.41,256.95 L698.41,256.86 L700.41,256.78 L702.41,256.70 L704.41,256.61 L706.40,256.53 L708.40,256.45 L710.40,256.37 L712.40,256.30 L714.40,256.22 L716.40,256.14 L718.40,256.07 L720.40,255.99" fill="none" stroke="#000000" stroke-width="3.05" stroke-linejoin="round" clip-path="url(#c12)"/>
<path d="M440.50,273.52 L442.50,273.36 L444.50,273.20 L446.50,273.04 L448.50,272.88 L450.50,272.72 L452.50,272.56 L454.50,272.41 L456.49,272.25 L458.49,272.09 L460.49,271.93 L462.49,271.77 L464.49,271.61 L466.49,271.46 L468.49,271.30 L470.49,271.14 L472.49,270.98 L474.49,270.83 L476.49,270.67 L478.49,270.51 L480.49,270.36 L482.49,270.20 L484.48,270.05 L486.48,269.89 L488.48,269.74 L490.48,269.58 L492.48,269.43 L494.48,269.27 L496.48,269.12 L498.48,268.96 L500.48,268.81 L502.48,268.66 L504.48,268.51 L506.48,268.35 L508.48,268.20 L510.48,268.05 L512.47,267.90 L514.47,267.75 L516.47,267.60 L518.47,267.45 L520.47,267.30 L522.47,267.15 L524.47,267.00 L526.47,266.85 L528.47,266.70 L530.47,266.55 L532.47,266.41 L534.47,266.26 L536.47,266.11 L538.47,265.97 L540.46,265.82 L542.46,265.68 L544.46,265.53 L546.46,265.39 L548.46,265.24 L550.46,265.10 L552.46,264.96 L554.46,264.82 L556.46,264.67 L558.46,264.53 L560.46,264.39 L562.46,264.25 L564.46,264.11 L566.45,263.97 L568.45,263.84 L570.45,263.70 L572.45,263.56 L574.45,263.42 L576.45,263.29 L578.45,263.15 L580.45,263.02 L582.45,262.88 L584.45,262.75 L586.45,262.61 L588.45,262.48 L590.45,262.35 L592.45,262.22 L594.44,262.09 L596.44,261.96 L598.44,261.83 L600.44,261.70 L602.44,261.57 L604.44,261.44 L606.44,261.31 L608.44,261.19 L610.44,261.06 L612.44,260.94 L614.44,260.81 L616.44,260.69 L618.44,260.57 L620.44,260.44 L622.43,260.32 L624.43,260.20 L626.43,260.08 L628.43,259.96 L630.43,259.84 L632.43,259.73 L634.43,259.61 L636.43,259.49 L638.43,259.38 L640.43,259.26 L642.43,259.15 L644.43,259.04 L646.43,258.92 L648.43,258.81 L650.42,258.70 L652.42,258.59 L654.42,258.48 L656.42,258.38 L658.42,258.27 L660.42,258.16 L662.42,258.06 L664.42,257.95 L666.42,257.85 L668.42,257.74 L670.42,257.64 L672.42,257.54 L674.42,257.44 L676.42,257.34 L678.41,257.24 L680.41,257.14 L682.41,257.05 L684.41,256.95 L686.41,256.86 L688.41,256.76 L690.41,256.67 L692.41,256.58 L694.41,256.49 L696.41,256.40 L698.41,256.31 L700.41,256.22 L702.41,256.13 L704.41,256.05 L706.40,255.96 L708.40,255.88 L710.40,255.79 L712.40,255.71 L714.40,255.63 L716.40,255.55 L718.40,255.47 L720.40,255.39" fill="none" stroke="#ff0000" stroke-width="3.05" stroke-linejoin="round" clip-path="url(#c12)"/>
<path d="M440.5,226.8 H720.4" stroke="#000000" stroke-width="2.2" stroke-dasharray="7.7 3.33" fill="none"/>
<text transform="translate(89.5 69.05) scale(1.075 1)" font-size="14" text-anchor="end" letter-spacing="0.25" fill="#000">20</text>
<text transform="translate(89.5 118.25) scale(1.075 1)" font-size="14" text-anchor="end" letter-spacing="0.25" fill="#000">10</text>
<text transform="translate(89.5 135.95000000000002) scale(1.075 1)" font-size="14" text-anchor="end" letter-spacing="0.25" fill="#000">0.50</text>
<text transform="translate(89.5 177.95000000000002) scale(1.075 1)" font-size="14" text-anchor="end" letter-spacing="0.25" fill="#000">0.25</text>
<text transform="translate(89.5 232.85000000000002) scale(1.075 1)" font-size="14" text-anchor="end" letter-spacing="0.25" fill="#000">1</text>
<text transform="translate(89.5 279.65000000000003) scale(1.075 1)" font-size="14" text-anchor="end" letter-spacing="0.25" fill="#000">0</text>
<text transform="translate(429.6 78.35) scale(1.075 1)" font-size="14" text-anchor="end" letter-spacing="0.25" fill="#000">20</text>
<text transform="translate(429.6 121.85) scale(1.075 1)" font-size="14" text-anchor="end" letter-spacing="0.25" fill="#000">15</text>
<text transform="translate(429.6 135.25) scale(1.075 1)" font-size="14" text-anchor="end" letter-spacing="0.25" fill="#000">5.0</text>
<text transform="translate(429.6 168.35000000000002) scale(1.075 1)" font-size="14" text-anchor="end" letter-spacing="0.25" fill="#000">2.5</text>
<text transform="translate(429.6 232.55) scale(1.075 1)" font-size="14" text-anchor="end" letter-spacing="0.25" fill="#000">1</text>
<text transform="translate(429.6 279.25) scale(1.075 1)" font-size="14" text-anchor="end" letter-spacing="0.25" fill="#000">0</text>
<text transform="translate(99.4 294.2) scale(1.075 1)" font-size="14" text-anchor="middle" letter-spacing="0.25" fill="#000">0.0</text>
<text transform="translate(165.27 294.2) scale(1.075 1)" font-size="14" text-anchor="middle" letter-spacing="0.25" fill="#000">0.5</text>
<text transform="translate(231.13 294.2) scale(1.075 1)" font-size="14" text-anchor="middle" letter-spacing="0.25" fill="#000">1.0</text>
<text transform="translate(296.99 294.2) scale(1.075 1)" font-size="14" text-anchor="middle" letter-spacing="0.25" fill="#000">1.5</text>
<text transform="translate(362.86 294.2) scale(1.075 1)" font-size="14" text-anchor="middle" letter-spacing="0.25" fill="#000">2.0</text>
<text transform="translate(439.9 294.2) scale(1.075 1)" font-size="14" text-anchor="middle" letter-spacing="0.25" fill="#000">0.0</text>
<text transform="translate(505.72 294.2) scale(1.075 1)" font-size="14" text-anchor="middle" letter-spacing="0.25" fill="#000">0.5</text>
<text transform="translate(571.55 294.2) scale(1.075 1)" font-size="14" text-anchor="middle" letter-spacing="0.25" fill="#000">1.0</text>
<text transform="translate(637.38 294.2) scale(1.075 1)" font-size="14" text-anchor="middle" letter-spacing="0.25" fill="#000">1.5</text>
<text transform="translate(703.2 294.2) scale(1.075 1)" font-size="14" text-anchor="middle" letter-spacing="0.25" fill="#000">2.0</text>
<text transform="translate(110.84 315.7) scale(1.08 1)" font-size="16.3" text-anchor="start" letter-spacing="0.303" fill="#000">Exc.-exc.</text>
<text transform="translate(190.68 315.7) scale(1.08 1)" font-size="16.3" text-anchor="start" letter-spacing="0.77" fill="#000">synaptic</text>
<text transform="translate(267.58 315.7) scale(1.08 1)" font-size="16.3" text-anchor="start" letter-spacing="0.556" fill="#000">weight</text>
<text transform="translate(328.52 315.7) scale(1.08 1)" font-size="16.3" text-anchor="start" letter-spacing="0.21" fill="#000">(m<tspan dx="1.7">V</tspan>)</text>
<text transform="translate(450.84 315.7) scale(1.08 1)" font-size="16.3" text-anchor="start" letter-spacing="0.303" fill="#000">Exc.-exc.</text>
<text transform="translate(530.68 315.7) scale(1.08 1)" font-size="16.3" text-anchor="start" letter-spacing="0.77" fill="#000">synaptic</text>
<text transform="translate(607.58 315.7) scale(1.08 1)" font-size="16.3" text-anchor="start" letter-spacing="0.556" fill="#000">weight</text>
<text transform="translate(668.52 315.7) scale(1.08 1)" font-size="16.3" text-anchor="start" letter-spacing="0.21" fill="#000">(m<tspan dx="1.7">V</tspan>)</text>
<text transform="translate(226.2 39.2)" font-size="14.6" text-anchor="middle" letter-spacing="0.55" fill="#000">Balanced baseline drive</text>
<text transform="translate(579.8 39.2)" font-size="14.6" text-anchor="middle" letter-spacing="0.55" fill="#000">Unbalanced baseline drive</text>
<text transform="translate(102.8 142.0)" font-size="11.7" text-anchor="start" letter-spacing="0.4" fill="#ff0000">one-loop (original)</text>
<text transform="translate(102.8 154.1)" font-size="11.7" text-anchor="start" letter-spacing="0.4" fill="#0000ff">one-loop (corrected)</text>
<text transform="translate(44.9 105.5) rotate(-90) scale(1.05 1)" font-size="16.3" text-anchor="start" letter-spacing="0.3" fill="#000">Rate</text>
<text transform="translate(63.3 104.7) rotate(-90) scale(1.08 1)" font-size="16.3" text-anchor="start" letter-spacing="0.45" fill="#000">(sp/s)</text>
<text transform="translate(28.7 183.0) rotate(-90) scale(1.08 1)" font-size="16.3" text-anchor="start" letter-spacing="0.6" fill="#000">Cov.</text>
<text transform="translate(49.5 186.8) rotate(-90) scale(1.08 1)" font-size="16.3" text-anchor="start" letter-spacing="0.3" fill="#000">(sp<tspan font-size="11.6" dy="-6.2" dx="1.2">2</tspan><tspan dy="6.2" dx="1.0">/s)</tspan></text>
<text transform="translate(72.3 272.9) rotate(-90) scale(1.08 1)" font-size="16.3" text-anchor="start" letter-spacing="0.5" fill="#000">Stability</text>
</svg>
</body></html>
